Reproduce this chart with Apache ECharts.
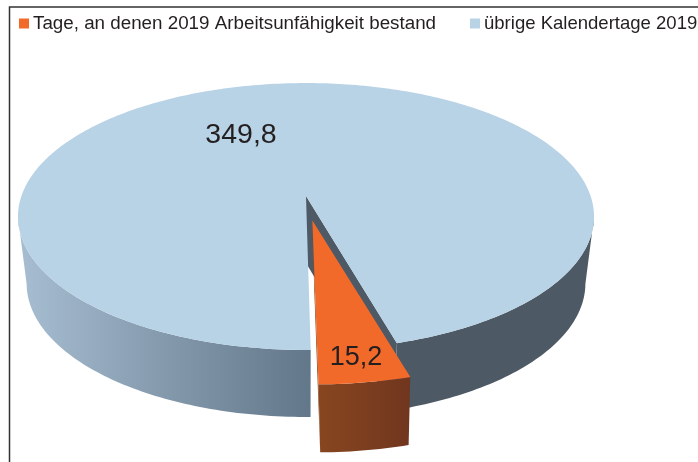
<!DOCTYPE html>
<html><head><meta charset="utf-8">
<style>html,body{margin:0;padding:0;background:#fff}#c{width:698px;height:462px}</style>
<script src="https://cdn.jsdelivr.net/npm/echarts@6/dist/echarts.min.js"></script>
</head><body><div id="c"></div>
<script>
const categories = ['Tage, an denen 2019 Arbeitsunfähigkeit bestand', 'übrige Kalendertage 2019'];
const values = [15.2, 349.8];
const valueLabels = ['15,2', '349,8'];

const total = values[0] + values[1];
const start = 0.8 * Math.PI / 180;                 // first slice starts just right of the front
const sliceEnd = start + values[0] / total * 2 * Math.PI;
const cx = 306, cy = 196, a = 284.6, b = 130.3, k = 0.1536, depth = 67, shrink = 0.97;
const explode = 0.185;
const rad = d => d * Math.PI / 180;

function proj(X, Y) { const w = 1 - k * Y; return [cx + a * X / w, cy + b * Y / w]; }
function rim(t, ox, oy, wide) { return proj(Math.sin(t) * (wide || 1) + (ox || 0), Math.cos(t) + (oy || 0)); }
function low(p) { return [cx + (p[0] - cx) * shrink, p[1] + depth]; }
function lowSlice(p) { return [364 + (p[0] - 364) * 0.964, p[1] + 68]; }
function arc(t0, t1, ox, oy, wide) {
  const n = Math.max(2, Math.ceil(Math.abs(t1 - t0) / rad(1))), o = [];
  for (let i = 0; i <= n; i++) o.push(rim(t0 + (t1 - t0) * i / n, ox, oy, wide));
  return o;
}
function poly(points, fill) { return { type: 'polygon', shape: { points }, style: { fill, stroke: null } }; }
function grad(x0, x1, stops) {
  return new echarts.graphic.LinearGradient(x0, 0, x1, 0, stops, true);
}
function label(text, p, size) {
  return { type: 'text', style: { text, x: p[0], y: p[1], fill: '#231f20', align: 'center', verticalAlign: 'middle',
    font: size + 'px "Liberation Sans", Arial, sans-serif' } };
}

function renderRest(params, api) {
  const v = api.value(0);
  const end = sliceEnd + v / total * 2 * Math.PI;
  const sideRight = arc(sliceEnd, rad(81));
  const sideLeft = arc(rad(279), rad(360) + start);
  const wallTop = rim(sliceEnd), apex = [cx, cy];
  const children = [];
  children.push(poly(sideRight.concat(sideRight.map(low).reverse()), '#4d5964'));
  children.push(poly(sideLeft.concat(sideLeft.map(low).reverse()),
    grad(20, 311, [{ offset: 0, color: '#a7bdd1' }, { offset: 0.5, color: '#8499ac' }, { offset: 1, color: '#63778a' }])));
  children.push(poly([apex, wallTop, low(wallTop), low(apex)], '#4d5964'));
  children.push(poly([apex].concat(arc(sliceEnd, end)), '#b8d2e6'));
  children.push(label(valueLabels[1], [241, 135], 28.5));
  return { type: 'group', children };
}

function renderSlice(params, api) {
  const v = api.value(0);
  const t1 = start + v / total * 2 * Math.PI, mid = (start + t1) / 2;
  const ox = explode * Math.sin(mid) - 0.005, oy = explode * Math.cos(mid);
  const top = arc(start, t1, ox, oy, 1.03), apex = proj(ox, oy);
  const children = [];
  children.push(poly([apex, top[0], lowSlice(top[0]), lowSlice(apex)], '#8a4520'));
  children.push(poly(top.concat(top.map(lowSlice).reverse()),
    grad(top[0][0], top[top.length - 1][0], [{ offset: 0, color: '#87461f' }, { offset: 1, color: '#71361f' }])));
  children.push(poly([apex].concat(top), '#f26a2a'));
  children.push(label(valueLabels[0], [356, 358], 27));
  return { type: 'group', children };
}

function legendAt(name, left, fontSize) {
  return {
    data: [name], left, top: 14, width: 400, padding: 0, itemWidth: 10, itemHeight: 10, selectedMode: false,
    icon: 'rect',
    textStyle: { fontFamily: '"Liberation Sans", Arial, sans-serif', fontSize, color: '#231f20', padding: [0, 0, 0, -1] }
  };
}

const chart = echarts.init(document.getElementById('c'), null, { renderer: 'canvas' });
chart.setOption({
  animation: false,
  backgroundColor: '#fff',
  tooltip: { show: false },
  legend: [legendAt(categories[0], 19, 18.8), legendAt(categories[1], 470, 18.55)],
  graphic: [
    { type: 'polyline', silent: true, shape: { points: [[9.5, 462], [9.5, 7], [698, 7]] }, style: { stroke: '#333', lineWidth: 1.5, fill: null } }
  ],
  series: [
    { type: 'custom', name: categories[0], coordinateSystem: 'none', z: 3, itemStyle: { color: '#f26a2a' }, data: [values[0]], renderItem: renderSlice },
    { type: 'custom', name: categories[1], coordinateSystem: 'none', z: 2, itemStyle: { color: '#b8d2e6' }, data: [values[1]], renderItem: renderRest }
  ]
});
</script></body></html>
